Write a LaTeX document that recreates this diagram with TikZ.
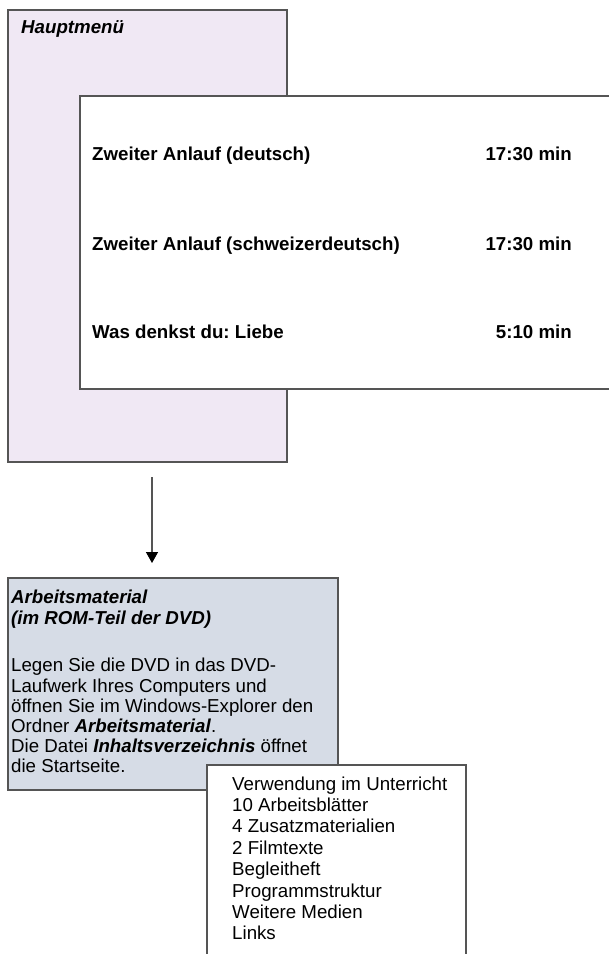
\documentclass[tikz,border=0pt]{standalone}
\usepackage{fontspec}
\setmainfont{Liberation Sans}
\frenchspacing
\usetikzlibrary{arrows.meta}
\definecolor{pinkfill}{RGB}{240,232,244}
\definecolor{bluefill}{RGB}{214,220,230}
\definecolor{edge}{RGB}{85,85,85}
\begin{document}
\begin{tikzpicture}[x=1pt,y=-1pt,
  box/.style={draw=edge, line width=1.4pt, anchor=north west, inner sep=0pt, outer sep=0pt},
  txt/.style={anchor=base west, inner sep=0pt, font=\fontsize{18.7}{21.5}\selectfont},
  btxt/.style={inner sep=0pt, font=\fontsize{18.7}{21.5}\selectfont\bfseries},
  arr/.style={draw=edge, line width=1.3pt, -{Triangle[width=12pt,length=11pt,fill=black,color=black]}, shorten <=15pt, shorten >=15pt}]
\clip (0,0) rectangle (609,954);
\fill[white] (0,0) rectangle (609,954);
% main menu box
\node[box, fill=pinkfill, minimum width=279pt, minimum height=452pt] (main) at (8,10) {};
\node[btxt, anchor=base west] (title) at (21,33) {\itshape Hauptmenü};
% film box
\node[box, fill=white, minimum width=545pt, minimum height=293pt] (films) at (80,96) {};
\foreach \y/\t/\d [count=\i] in {160/{Zweiter Anlauf (deutsch)}/{17:30 min},
                                 250/{Zweiter Anlauf (schweizerdeutsch)}/{17:30 min},
                                 338/{Was denkst du: Liebe}/{5:10 min}}{
  \node[btxt, anchor=base west] (film\i) at (92,\y) {\t};
  \node[btxt, anchor=base east] (dur\i) at (572,\y) {\d};
}
% material box
\node[box, fill=bluefill, minimum width=330pt, minimum height=212pt] (mat) at (8,578) {};
\foreach \y/\t [count=\i] in {603/{\bfseries\itshape Arbeitsmaterial},
                              624/{\bfseries\itshape (im ROM-Teil der DVD)},
                              671/{Legen Sie die DVD in das DVD-},
                              692/{Laufwerk Ihres Computers und},
                              712/{öffnen Sie im Windows-Explorer den},
                              732/{Ordner \textbf{\textit{Arbeitsmaterial}}.},
                              752/{Die Datei \textbf{\textit{Inhaltsverzeichnis}} öffnet},
                              772/{die Startseite.}}{
  \node[txt] (mt\i) at (11,\y) {\t};
}
% contents list
\node[box, fill=white, minimum width=259pt, minimum height=220pt] (list) at (207,765) {};
\foreach \y/\t [count=\i] in {790/{Verwendung im Unterricht},
                              811.4/{10 Arbeitsblätter},
                              832.8/{4 Zusatzmaterialien},
                              854.2/{2 Filmtexte},
                              875.6/{Begleitheft},
                              897/{Programmstruktur},
                              918.4/{Weitere Medien},
                              939.8/{Links}}{
  \node[txt] (li\i) at (232,\y) {\t};
}
% arrow
\draw[arr] ([xshift=4.5pt]main.south) -- ([xshift=4.5pt]main.south |- mat.north);
\end{tikzpicture}
\end{document}
